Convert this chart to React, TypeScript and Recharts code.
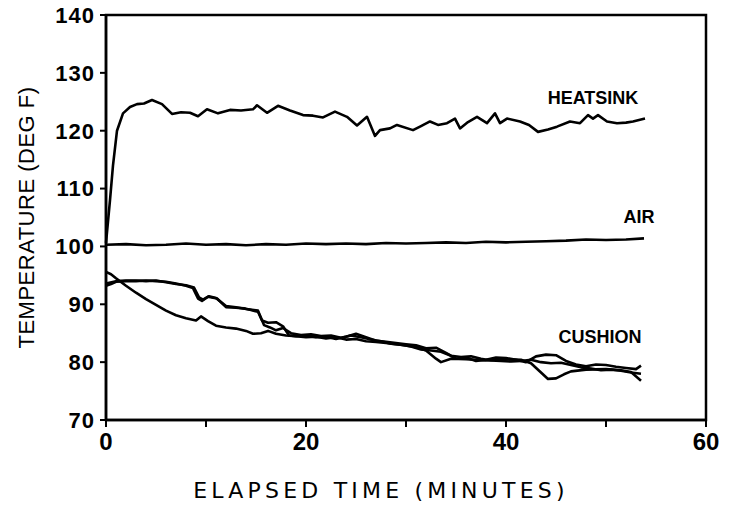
import { Line, LineChart, ReferenceArea, ReferenceDot, XAxis, YAxis } from 'recharts'

const xTicks = [0, 10, 20, 30, 40, 50, 60]
const yTicks = [70, 80, 90, 100, 110, 120, 130, 140]

const heatsinkTime = [0, 0.4, 0.7, 1.1, 1.7, 2.4, 3.1, 3.8, 4.6, 5.6, 6.6, 7.5, 8.4, 9.2, 10.1, 11.2, 12.4, 13.5, 14.7, 15.1, 16.1, 17.2, 18.4, 19.7, 20.7, 21.7, 22.9, 24.1, 25.1, 26.1, 26.9, 27.4, 28.4, 29.1, 30.7, 31.5, 32.4, 33.2, 34.1, 34.9, 35.4, 36.2, 37.1, 38.1, 38.9, 39.4, 40.1, 41.4, 42.3, 43.2, 44.2, 45.1, 46.4, 47.4, 48.2, 48.7, 49.2, 50.1, 51.1, 52.0, 52.7, 53.9]
const heatsinkTemp = [100.6, 108, 114, 120, 123, 124.1, 124.6, 124.7, 125.3, 124.6, 122.9, 123.2, 123.1, 122.5, 123.7, 123, 123.6, 123.5, 123.7, 124.4, 123.1, 124.3, 123.5, 122.7, 122.6, 122.3, 123.3, 122.4, 120.9, 122.4, 119.1, 120.1, 120.4, 121, 120.1, 120.8, 121.6, 121.0, 121.3, 122.1, 120.4, 121.5, 122.4, 121.3, 123, 121.3, 122.1, 121.6, 121.0, 119.8, 120.2, 120.7, 121.6, 121.3, 122.7, 122.1, 122.7, 121.6, 121.3, 121.4, 121.6, 122.1]

const airTime = [0, 2, 4, 6, 8, 10, 12, 14, 16, 18, 20, 22, 24, 26, 28, 30, 32, 34, 36, 38, 40, 42, 44, 46, 48, 50, 52, 53.8]
const airTemp = [100.3, 100.4, 100.2, 100.3, 100.5, 100.3, 100.4, 100.2, 100.4, 100.3, 100.5, 100.4, 100.5, 100.4, 100.6, 100.5, 100.6, 100.7, 100.6, 100.8, 100.7, 100.8, 100.9, 101.0, 101.2, 101.1, 101.2, 101.4]

const cushionATime = [0, 0.5, 1, 2, 3, 4, 5, 6, 7, 8, 9, 9.5, 10.2, 11, 12, 13, 14, 14.7, 15.5, 16.2, 17, 18, 19, 20, 21, 22, 23, 24, 25, 26, 27, 28, 29, 30, 31, 32, 33, 33.5, 34.5, 36, 38, 40, 41.5, 42.5, 43.5, 44.2, 45, 45.8, 46.5, 48, 50, 51.5, 52.5, 53.5]
const cushionATemp = [95.6, 95.2, 94.5, 93.2, 92.0, 90.9, 89.9, 88.9, 88.1, 87.6, 87.2, 87.9, 87.1, 86.3, 86.0, 85.8, 85.4, 84.9, 85.0, 85.4, 84.9, 84.6, 84.5, 84.3, 84.4, 84.1, 84.3, 83.9, 84.0, 83.6, 83.5, 83.3, 83.1, 82.9, 82.6, 82.0, 80.6, 80.0, 80.6, 80.5, 80.3, 80.5, 80.4, 79.8, 78.2, 77.1, 77.2, 77.9, 78.4, 78.7, 78.8, 78.6, 78.3, 76.8]

const cushionBTime = [0, 0.5, 1, 2, 3, 4, 5, 6, 7, 8, 8.7, 9.2, 9.6, 10.2, 11.1, 12, 13, 13.8, 14.5, 15.2, 15.6, 16.2, 17, 17.7, 18.3, 19, 20, 21, 22, 23, 24, 25, 26, 27, 28, 29, 30, 31, 32, 33, 34, 35, 36, 37, 38, 39, 40, 41, 42, 43, 44, 45, 46, 47, 48, 49, 50, 51, 52, 53, 53.5]
const cushionBTemp = [93.2, 93.5, 93.9, 94.0, 94.0, 94.1, 94.0, 93.9, 93.6, 93.2, 92.8, 91.0, 90.6, 91.3, 91.0, 89.5, 89.4, 89.3, 89.0, 88.7, 87.2, 86.8, 86.9, 86.2, 84.6, 84.5, 84.6, 84.3, 84.4, 84.0, 84.4, 84.9, 84.3, 83.7, 83.5, 83.3, 83.1, 82.9, 82.4, 82.5, 81.6, 80.6, 80.8, 80.2, 80.4, 80.8, 80.7, 80.4, 80.0, 81.0, 81.3, 81.2, 80.2, 79.6, 79.3, 79.6, 79.5, 79.2, 79.0, 78.8, 79.4]

const cushionCTime = [0, 1, 2, 3, 4, 5, 6, 7, 8, 8.8, 9.3, 9.7, 10.3, 11, 12, 13, 14, 15.2, 15.8, 16.4, 17, 17.7, 18.5, 19.5, 20.5, 21.5, 22.5, 23.5, 24.5, 25.5, 26.5, 27.5, 28.5, 29.5, 30.5, 31.5, 32.5, 33.5, 34.5, 35.5, 36.5, 37.5, 38.5, 39.5, 40.5, 41.5, 42.5, 43.5, 44.5, 45.5, 46.5, 47.5, 48.5, 49.5, 50.5, 51.5, 52.5, 53.5]
const cushionCTemp = [93.6, 94.0, 94.1, 94.1, 94.0, 94.1, 93.8, 93.5, 93.3, 92.9, 91.2, 90.8, 91.4, 91.1, 89.7, 89.5, 89.2, 88.9, 86.4, 86.0, 85.5, 85.9, 85.0, 84.7, 84.8, 84.5, 84.6, 84.2, 84.6, 84.3, 83.9, 83.6, 83.2, 83.0, 82.7, 82.2, 82.0, 81.8, 81.1, 80.9, 81.0, 80.6, 80.3, 80.2, 80.1, 80.2, 80.4, 80.0, 79.8, 79.9, 79.5, 79.1, 78.9, 78.6, 78.7, 78.5, 78.2, 78.0]

const toPoints = (ts: number[], vs: number[]) => ts.map((t, i) => ({ t, v: vs[i] }))

const series = [
  toPoints(heatsinkTime, heatsinkTemp),
  toPoints(airTime, airTemp),
  toPoints(cushionATime, cushionATemp),
  toPoints(cushionBTime, cushionBTemp),
  toPoints(cushionCTime, cushionCTemp),
]

const curveLabels = [
  { name: 'HEATSINK', t: 48.7, v: 125.8 },
  { name: 'AIR', t: 53.3, v: 105.1 },
  { name: 'CUSHION', t: 49.4, v: 84.4 },
]

const tickFont = { fontFamily: 'Liberation Sans, Arial, sans-serif', fontWeight: 600, fill: '#000' }

export default function App() {
  return (
    <div style={{ width: 736, height: 517, background: '#fff' }}>
      <style>{`body{margin:0}`}</style>
      <LineChart width={736} height={517} margin={{ top: 15, right: 30, bottom: 0, left: 0 }}>
        <XAxis
          type="number"
          dataKey="t"
          domain={[0, 60]}
          ticks={xTicks}
          interval={0}
          height={97}
          tickSize={7}
          tickMargin={6}
          tickFormatter={(v) => (v % 20 === 0 ? String(v) : '')}
          tick={{ ...tickFont, fontSize: 24 }}
          axisLine={{ stroke: '#000', strokeWidth: 2.5 }}
          tickLine={{ stroke: '#000', strokeWidth: 2 }}
          label={{
            value: 'ELAPSED TIME (MINUTES)',
            position: 'insideBottom',
            offset: 19,
            dx: -25,
            style: { fontFamily: 'DejaVu Sans, sans-serif', fontWeight: 400, fontSize: 22, letterSpacing: 4.2, fill: '#000' },
          }}
        />
        <YAxis
          type="number"
          domain={[70, 140]}
          ticks={yTicks}
          interval={0}
          width={106}
          tickSize={6}
          tickMargin={5}
          tick={{ ...tickFont, fontSize: 22, letterSpacing: 1 }}
          axisLine={{ stroke: '#000', strokeWidth: 2.5 }}
          tickLine={{ stroke: '#000', strokeWidth: 2 }}
          label={{
            value: 'TEMPERATURE (DEG F)',
            angle: -90,
            position: 'insideLeft',
            offset: 26,
            style: { textAnchor: 'middle', fontFamily: 'Liberation Sans, Arial, sans-serif', fontSize: 22, letterSpacing: 0.5, fill: '#000' },
          }}
        />
        <ReferenceArea x1={0} x2={60} y1={70} y2={140} fill="none" stroke="#000" strokeWidth={2.5} ifOverflow="visible" />
        {series.map((d, i) => (
          <Line
            key={i}
            data={d}
            dataKey="v"
            type="linear"
            stroke="#000"
            strokeWidth={2.6}
            strokeLinejoin="round"
            dot={false}
            activeDot={false}
            isAnimationActive={false}
          />
        ))}
        {curveLabels.map((l) => (
          <ReferenceDot
            key={l.name}
            x={l.t}
            y={l.v}
            r={0}
            fill="none"
            stroke="none"
            ifOverflow="visible"
            label={{
              value: l.name,
              position: 'center',
              style: { fontFamily: 'Liberation Sans, Arial, sans-serif', fontWeight: 700, fontSize: 18, fill: '#000' },
            }}
          />
        ))}
      </LineChart>
    </div>
  )
}
